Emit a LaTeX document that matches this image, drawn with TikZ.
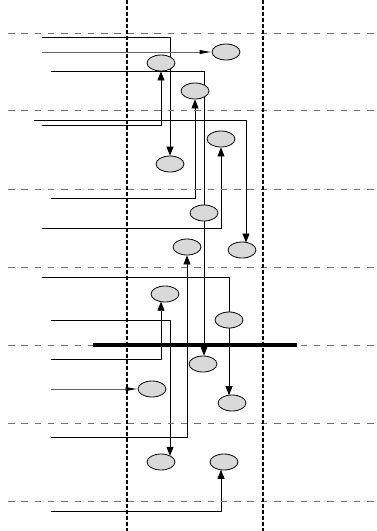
\documentclass[tikz,border=0pt]{standalone}
\usetikzlibrary{arrows.meta,calc,backgrounds,shapes.geometric}
\begin{document}
\begin{tikzpicture}[x=1pt,y=-1pt,
  ev/.style={ellipse,draw=black,line width=0.8pt,fill=black!15,minimum width=28pt,minimum height=16pt,inner sep=0pt},
  lane/.style={draw=black!55,line width=1pt,dash pattern=on 6.5pt off 6.8pt},
  col/.style={draw=black,line width=1.1pt,dash pattern=on 3.5pt off 2.5pt},
  wire/.style={draw=black,line width=0.8pt},
  up/.style={wire,-{Triangle[length=9pt,width=7pt]}},
  side/.style={draw=black!60,line width=0.8pt,-{Latex[length=12pt,width=4.5pt,black]}},
  bar/.style={draw=black,line width=4.5pt}
]
\useasboundingbox (0,0) rectangle (377,531);

% swim lanes
\foreach \yy [count=\i] in {33,110,189,267,345,423,501}
  \draw[lane] (8,\yy) coordinate (l\i) -- (377,\yy) coordinate (r\i);
\draw[col] (127,0) coordinate (c1t) -- (127,531) coordinate (c1b);
\draw[col] (263,0) coordinate (c2t) -- (263,531) coordinate (c2b);

% events
\node[ev] (E1) at (226,52) {};
\node[ev] (E2) at (161,63) {};
\node[ev] (E3) at (195,91) {};
\node[ev] (E4) at (170,164) {};
\node[ev] (E5) at (221,139) {};
\node[ev] (E6) at (204,213) {};
\node[ev] (E7) at (187,247) {};
\node[ev] (E8) at (242,250) {};
\node[ev] (E9) at (165,294) {};
\node[ev] (E10) at (229,320) {};
\node[ev] (E11) at (203,364) {};
\node[ev] (E12) at (152,389) {};
\node[ev] (E13) at (232,403) {};
\node[ev] (E14) at (161,462) {};
\node[ev] (E15) at (224,462) {};

% start points
\coordinate (s1) at (42,37);
\coordinate (s2) at (42,52);
\coordinate (s3) at (51,71);
\coordinate (s4) at (34,120);
\coordinate (s5) at (42,125);
\coordinate (s6) at (51,198.5);
\coordinate (s7) at (42,228);
\coordinate (s8) at (42,277);
\coordinate (s9) at (51,320);
\coordinate (s10) at (51,359);
\coordinate (s11) at (51,389);
\coordinate (s12) at (51,437);
\coordinate (s13) at (51,511);

\begin{scope}[on background layer]
\draw[up] (s1) -| (E4.north);
\draw[up] (s3) -| ($(E11.north)+(1,0)$);
\draw[up] (s4) -| ($(E8.center)+(4,-7.5)$);
\draw[up] (s5) -| (E2.south);
\draw[up] (s6) -| (E3.south);
\draw[up] (s7) -| (E5.south);
\draw[up] (s8) -| ($(E13.center)+(-3,-7.8)$);
\draw[up] (s9) -| ($(E14.center)+(9,-6.2)$);
\draw[up] (s10) -| ($(E9.center)+(-4,7.7)$);
\draw[up] (s12) -| (E7.south);
\draw[up] (s13) -| ($(E15.center)+(-3,7.8)$);
\draw[side] (s2) -- (E1.west);
\draw[side] (s11) -- (E12.west);
\end{scope}

% thick bar
\draw[bar] (93,345) coordinate (b1) -- (297,345) coordinate (b2);
\end{tikzpicture}
\end{document}
